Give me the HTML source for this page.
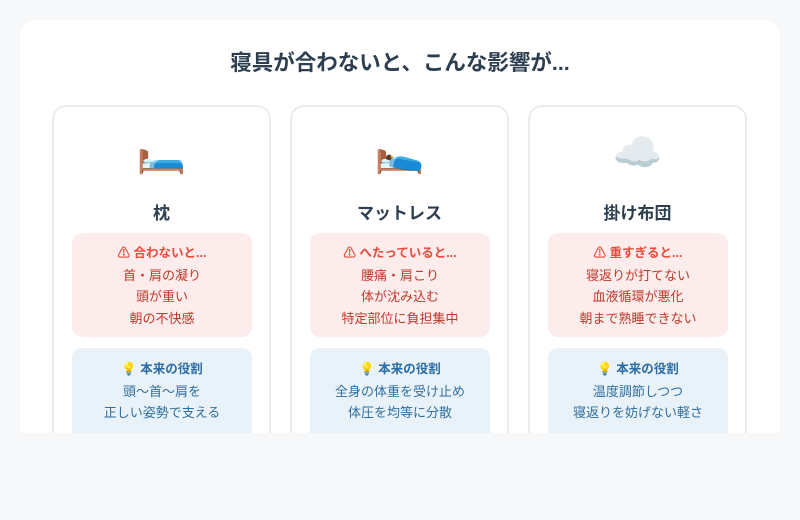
<!DOCTYPE html>
<html><head><meta charset="utf-8"><style>
*{margin:0;padding:0;box-sizing:border-box}
body{width:800px;height:520px;background:#f7f8fa;font-family:"Liberation Sans","Noto Sans CJK JP",sans-serif;position:relative;overflow:hidden}
.wrap{position:absolute;left:20px;top:20px;width:760px;height:413px;background:#fff;border-radius:16px 16px 0 0;overflow:hidden}
h1{position:absolute;top:26px;left:0;width:760px;text-align:center;font-size:21.5px;color:#2c3e50;font-weight:bold}
.card{position:absolute;top:85px;width:219px;height:360px;border:2px solid #ececec;border-radius:14px;text-align:center}
.icon{position:absolute;top:22px;width:100%;font-size:40px;line-height:48px;color:#7a5}
.t{position:absolute;top:92px;width:100%;font-size:17px;font-weight:bold;color:#2c3e50}
.bad{position:absolute;left:18px;top:126px;width:180px;height:104px;background:#fdecec;border-radius:10px;color:#c0392b;font-size:13px;line-height:21.5px;padding-top:9px}
.bad b{color:#e74c3c;font-size:12.5px}
.good{position:absolute;left:18px;top:241px;width:180px;height:110px;background:#eaf2f9;border-radius:10px;color:#2f6f9f;font-size:13px;line-height:21.5px;padding-top:10px}
.good b{color:#2b6da3;font-size:12.5px}
</style></head><body>
<div class="wrap">
<h1>寝具が合わないと、こんな影響が...</h1>
<div class="card" style="left:32px"><div class="icon">🛏️</div><div class="t">枕</div>
<div class="bad"><b>⚠ 合わないと...</b><br>首・肩の凝り<br>頭が重い<br>朝の不快感</div>
<div class="good"><b>💡 本来の役割</b><br>頭〜首〜肩を<br>正しい姿勢で支える</div></div>
<div class="card" style="left:270px"><div class="icon">🛌</div><div class="t">マットレス</div>
<div class="bad"><b>⚠ へたっていると...</b><br>腰痛・肩こり<br>体が沈み込む<br>特定部位に負担集中</div>
<div class="good"><b>💡 本来の役割</b><br>全身の体重を受け止め<br>体圧を均等に分散</div></div>
<div class="card" style="left:508px"><div class="icon" style="color:#bbb">☁️</div><div class="t">掛け布団</div>
<div class="bad"><b>⚠ 重すぎると...</b><br>寝返りが打てない<br>血液循環が悪化<br>朝まで熟睡できない</div>
<div class="good"><b>💡 本来の役割</b><br>温度調節しつつ<br>寝返りを妨げない軽さ</div></div>
</div>
</body></html>
